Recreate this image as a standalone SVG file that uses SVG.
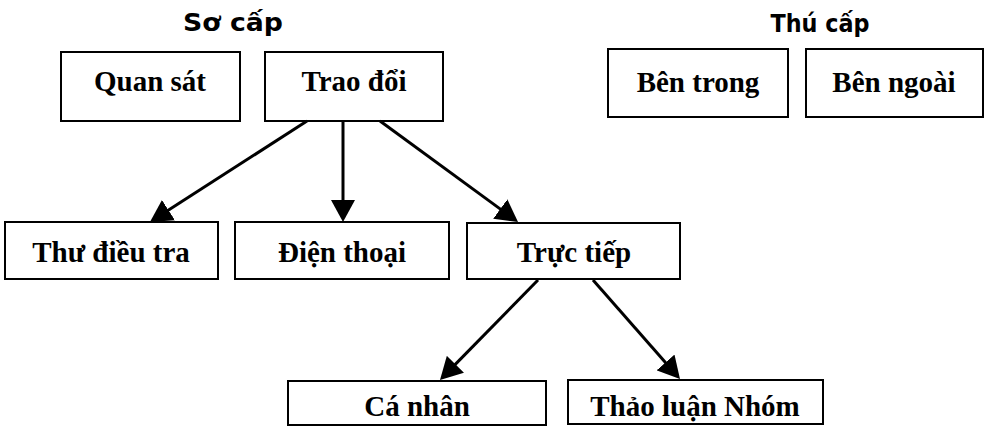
<svg xmlns="http://www.w3.org/2000/svg" width="984" height="426" viewBox="0 0 984 426">
<style>
.box{fill:#fff;stroke:#000;stroke-width:2}
.t{font-family:"Liberation Serif","Times New Roman",serif;font-weight:bold;font-size:29px;fill:#000;text-anchor:middle}
.h{font-family:"DejaVu Sans","Liberation Sans",sans-serif;font-weight:bold;font-size:25px;fill:#000;text-anchor:middle}
.c{stroke:#000;stroke-width:3;fill:none;marker-end:url(#ah)}
</style>
<defs>
<marker id="ah" markerUnits="userSpaceOnUse" markerWidth="24" markerHeight="24" viewBox="0 0 24 24" refX="4" refY="12" orient="auto">
<path d="M0,0 L22,12 L0,24 z" fill="#000"/>
</marker>
</defs>
<rect width="984" height="426" fill="#fff"/>
<text class="h" x="233" y="31" textLength="100" lengthAdjust="spacingAndGlyphs">Sơ cấp</text>
<text class="h" x="820" y="32" textLength="99" lengthAdjust="spacingAndGlyphs">Thú cấp</text>
<g id="quan-sat"><rect class="box" x="61" y="52" width="179" height="69"/><text class="t" x="150" y="91">Quan sát</text></g>
<g id="trao-doi"><rect class="box" x="265" y="52" width="178" height="69"/><text class="t" x="354" y="91">Trao đổi</text></g>
<g id="ben-trong"><rect class="box" x="608" y="49" width="180" height="68"/><text class="t" x="698" y="92">Bên trong</text></g>
<g id="ben-ngoai"><rect class="box" x="806" y="49" width="177" height="68"/><text class="t" x="894" y="92">Bên ngoài</text></g>
<g id="thu-dieu-tra"><rect class="box" x="5" y="222" width="213" height="57"/><text class="t" x="111" y="262">Thư điều tra</text></g>
<g id="dien-thoai"><rect class="box" x="235" y="222" width="214" height="57"/><text class="t" x="342" y="262">Điện thoại</text></g>
<g id="truc-tiep"><rect class="box" x="467" y="223" width="213" height="56"/><text class="t" x="574" y="262">Trực tiếp</text></g>
<g id="ca-nhan"><rect class="box" x="288" y="381" width="258" height="44"/><text class="t" x="417" y="416">Cá nhân</text></g>
<g id="thao-luan-nhom"><rect class="box" x="568" y="380" width="255" height="44"/><text class="t" x="695" y="416">Thảo luận Nhóm</text></g>
<g id="connectors">
<line class="c" x1="307" y1="121" x2="165.1" y2="212.3"/>
<line class="c" x1="343" y1="121" x2="343" y2="204"/>
<line class="c" x1="380" y1="121" x2="503.5" y2="211.4"/>
<line class="c" x1="538" y1="280" x2="452.6" y2="367.1"/>
<line class="c" x1="593" y1="280" x2="668.1" y2="365.5"/>
</g>
</svg>
